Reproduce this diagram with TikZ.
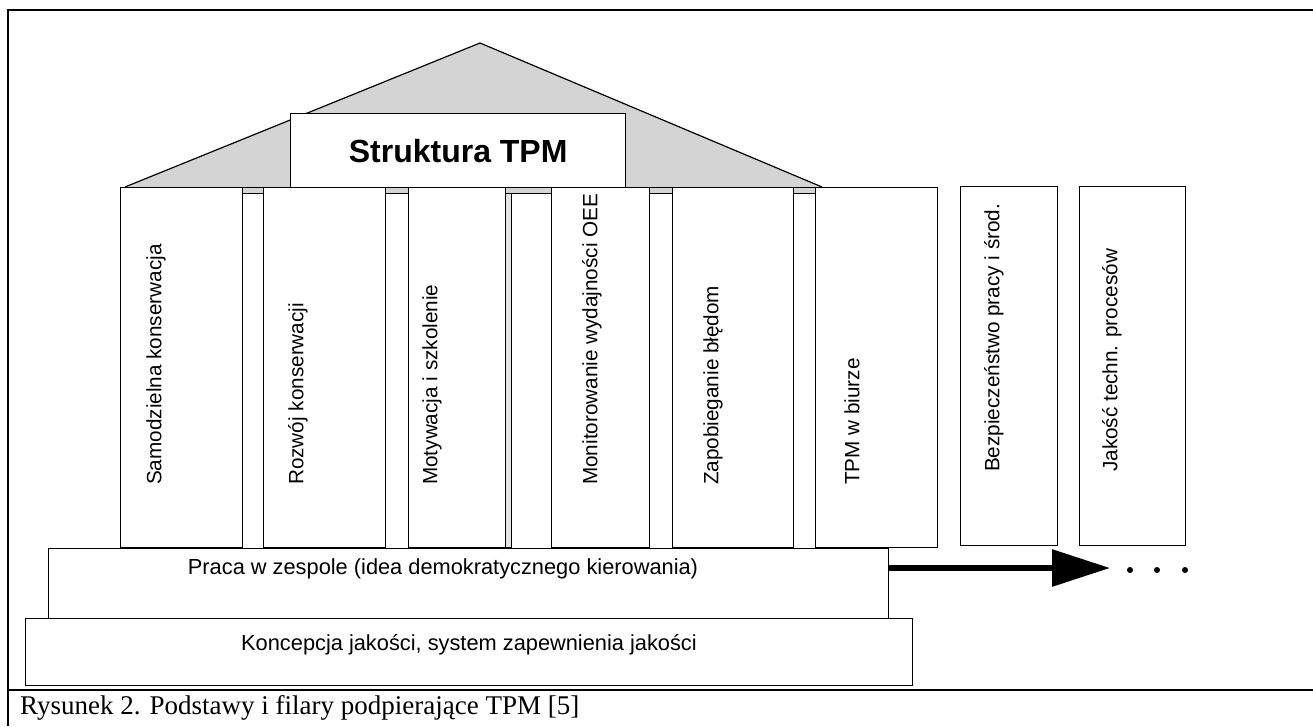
\documentclass[tikz,border=0pt]{standalone}
\usepackage{fontspec}
\setmainfont{Liberation Serif}
\newfontfamily\arialf{Liberation Sans}
\usetikzlibrary{arrows.meta}
\begin{document}
\begin{tikzpicture}[x=1pt,y=-1pt,
  box/.style={draw,line width=1.3pt,fill=white,inner sep=0pt,anchor=north west},
  ptext/.style={font=\arialf\fontsize{20.7}{24}\selectfont,rotate=90,anchor=west,inner sep=0pt},
  htext/.style={font=\arialf\fontsize{21.8}{25}\selectfont,inner sep=0pt},
  roofgray/.style={fill=black!17}]
\useasboundingbox (0,0) rectangle (1313,726);
% frame
\draw[line width=2.8pt] (8,726) -- (8,10) -- (1313,10);
\draw[line width=2pt] (8,690) -- (1313,690);
% roof
\coordinate (rl) at (125,187);
\coordinate (ra) at (480,43);
\coordinate (rr) at (822,187);
\fill[roofgray] (rl) -- (ra) -- (rr) -- cycle;
\draw[line width=1.2pt] (rl) -- (ra) -- (rr);
\draw[roofgray,draw=black,line width=0.8pt] (120,187) rectangle (822,193);
\draw[fill=black!10,line width=0.8pt] (505,193) rectangle (511,547);
% title
\node[box,minimum width=335pt,minimum height=74pt,font=\arialf\bfseries\fontsize{32}{36}\selectfont] (title) at (290,113) {Struktura TPM};
% pillars
\node[box,minimum width=122pt,minimum height=360pt] (p1) at (120,187) {};
\node[box,minimum width=122pt,minimum height=360pt] (p2) at (263,187) {};
\node[box,minimum width=97pt,minimum height=360pt] (p3) at (408,187) {};
\node[box,minimum width=98pt,minimum height=360pt] (p4) at (551,187) {};
\node[box,minimum width=121pt,minimum height=360pt] (p5) at (672,187) {};
\node[box,minimum width=122pt,minimum height=360pt] (p6) at (815,187) {};
\node[box,minimum width=97pt,minimum height=359pt] (p7) at (960,186) {};
\node[box,minimum width=106pt,minimum height=359pt] (p8) at (1079,186) {};
\node[ptext] (t1) at (156,485) {Samodzielna konserwacja};
\node[ptext] (t2) at (298,485) {Rozwój konserwacji};
\node[ptext] (t3) at (432,485) {Motywacja i szkolenie};
\node[ptext] (t4) at (592,485) {Monitorowanie wydajności OEE};
\node[ptext] (t5) at (713,485) {Zapobieganie błędom};
\node[ptext] (t6) at (852,485) {TPM w biurze};
\node[ptext] (t7) at (994,472) {Bezpieczeństwo pracy i środ.};
\node[ptext] (t8) at (1112,472) {Jakość techn. procesów};
% base
\node[box,minimum width=887pt,minimum height=67pt] (konc) at (25,618) {};
\node[box,minimum width=840pt,minimum height=70pt] (praca) at (48,548) {};
\node[htext] (praca-t) at (443,569) {Praca w zespole (idea demokratycznego kierowania)};
\node[htext] (konc-t) at (469,645) {Koncepcja jakości, system zapewnienia jakości};
% arrow
\coordinate (aend) at (1110,568);
\draw[line width=6pt,-{Triangle[length=58pt,width=36pt]}] (praca.east |- aend) -- (aend);
\fill (1130,570) circle (3pt);
\fill (1157,570) circle (3pt);
\fill (1185,570) circle (3pt);
% caption
\node[anchor=west,font=\fontsize{27}{30}\selectfont,inner sep=0pt] (cap) at (20,708) {Rysunek 2. Podstawy i filary podpierające TPM [5]};
\end{tikzpicture}
\end{document}
